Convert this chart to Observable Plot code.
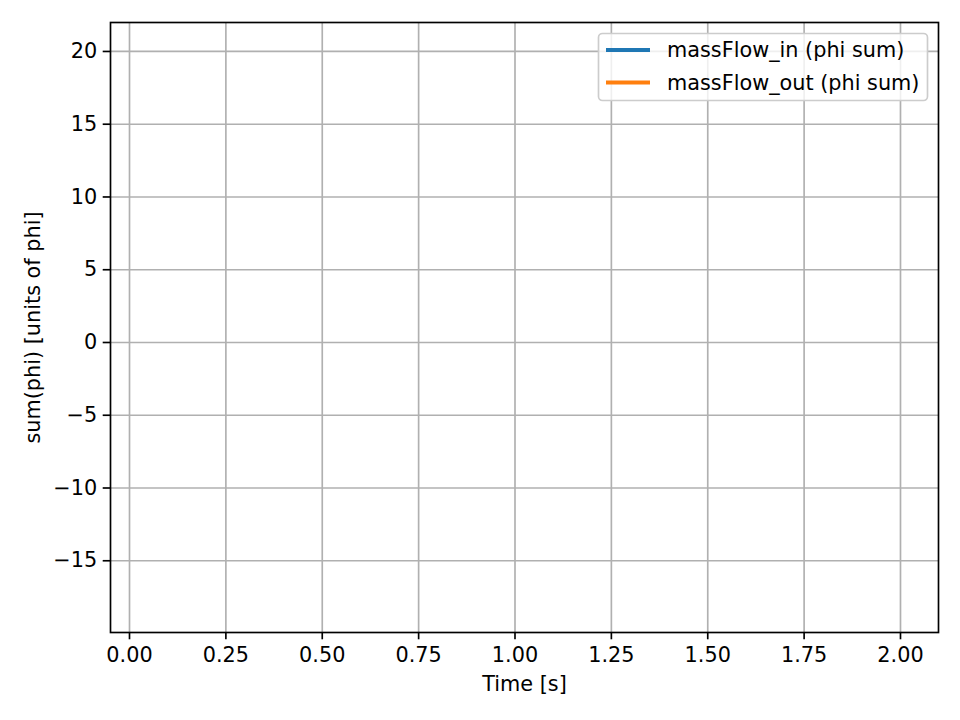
<!DOCTYPE html>
<html>
<head>
<meta charset="utf-8">
<script src="https://cdn.jsdelivr.net/npm/d3@7"></script>
<script src="https://cdn.jsdelivr.net/npm/@observablehq/plot@0.6"></script>
<style>
  html, body { margin: 0; padding: 0; background: white; }
</style>
</head>
<body>
<div id="chart"></div>
<script>
// Series (the reference draws no visible line points: the series carry no plottable values)
const time = [];
const massFlowIn = [];
const massFlowOut = [];

const seriesNames = ["massFlow_in (phi sum)", "massFlow_out (phi sum)"];
const seriesColors = ["#1f77b4", "#ff7f0e"];

const xTicks = [0, 0.25, 0.5, 0.75, 1.0, 1.25, 1.5, 1.75, 2.0];
const yTicks = [-15, -10, -5, 0, 5, 10, 15, 20];
const xDomain = [-0.0493, 2.0986];
const yDomain = [-19.93, 21.99];

const xLabel = "Time [s]";
const yLabel = "sum(phi) [units of phi]";

const rows = [];
time.forEach((t, i) => {
  rows.push({t, v: massFlowIn[i], s: seriesNames[0]});
  rows.push({t, v: massFlowOut[i], s: seriesNames[1]});
});

const fs = 20.8;
const lw = 1.67;

const svg = Plot.plot({
  width: 960,
  height: 720,
  marginLeft: 110,
  marginRight: 22,
  marginTop: 22,
  marginBottom: 88,
  style: {fontFamily: "DejaVu Sans, sans-serif", fontSize: fs + "px", background: "white", color: "black"},
  x: {domain: xDomain},
  y: {domain: yDomain},
  color: {domain: seriesNames, range: seriesColors},
  marks: [
    Plot.gridX(xTicks, {stroke: "#b0b0b0", strokeOpacity: 1, strokeWidth: lw}),
    Plot.gridY(yTicks, {stroke: "#b0b0b0", strokeOpacity: 1, strokeWidth: lw}),
    Plot.line(rows, {x: "t", y: "v", stroke: "s", z: "s", strokeWidth: 3.1}),
    Plot.frame({stroke: "black", strokeWidth: lw}),
    Plot.axisX(xTicks, {tickSize: 7.3, tickPadding: 7, tickFormat: d3.format(".2f"), label: null, strokeWidth: lw, fontSize: fs}),
    Plot.axisY(yTicks, {tickSize: 7.3, tickPadding: 6, tickFormat: d => d < 0 ? "\u2212" + Math.abs(d) : String(d), label: null, strokeWidth: lw, fontSize: fs}),
    Plot.text([xLabel], {frameAnchor: "bottom", dy: 58, text: d => d, fontSize: fs, textAnchor: "middle"}),
    Plot.text([yLabel], {frameAnchor: "left", dx: -77, rotate: -90, text: d => d, fontSize: fs, textAnchor: "middle"})
  ]
});

document.getElementById("chart").appendChild(svg);

// Legend inside the plot area (upper right)
const s = d3.select(svg);
const lg = s.append("g").attr("font-family", "DejaVu Sans, sans-serif").attr("font-size", fs).attr("text-anchor", "start");
lg.append("rect")
  .attr("x", 598.5).attr("y", 33.5).attr("width", 329).attr("height", 67).attr("rx", 4)
  .attr("fill", "white").attr("fill-opacity", 0.8)
  .attr("stroke", "#cccccc").attr("stroke-width", lw);
seriesNames.forEach((name, i) => {
  const y = 50 + i * 32.5;
  lg.append("line").attr("x1", 606).attr("x2", 650).attr("y1", y).attr("y2", y)
    .attr("stroke", seriesColors[i]).attr("stroke-opacity", 1).attr("stroke-width", 4);
  lg.append("text").attr("x", 667).attr("y", y).attr("dy", "0.35em").attr("fill", "black")
    .attr("text-anchor", "start").text(name);
});
</script>
</body>
</html>
